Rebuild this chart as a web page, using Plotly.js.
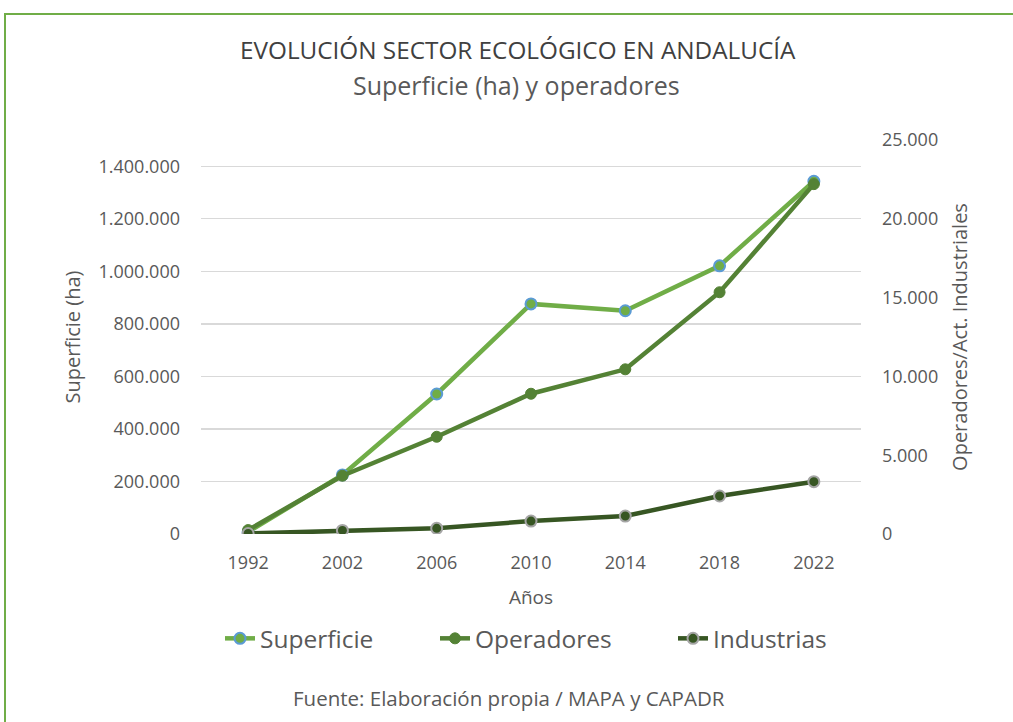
<!DOCTYPE html>
<html>
<head>
<meta charset="utf-8">
<script src="https://cdn.plot.ly/plotly-3.0.1.min.js"></script>
<style>
html,body{margin:0;padding:0;background:#fff;}
#chart{width:1013px;height:722px;}
</style>
</head>
<body>
<div id="chart"></div>
<script>
var years = ['1992','2002','2006','2010','2014','2018','2022'];
var superficie = [8000, 225000, 533000, 876000, 850000, 1021000, 1343000];
var operadores = [250, 3700, 6170, 8900, 10450, 15340, 22200];
var industrias = [30, 230, 360, 820, 1140, 2410, 3320];

var FONT = 'Open Sans, Noto Sans, sans-serif';
var GREY = '#595959';

var traces = [
  {x: years, y: superficie, name: 'Superficie', type: 'scatter', mode: 'lines+markers',
   yaxis: 'y', legend: 'legend', line: {color: '#70AD47', width: 4.5},
   marker: {color: '#70AD47', size: 11, line: {color: '#5B9BD5', width: 2}}},
  {x: years, y: operadores, name: 'Operadores', type: 'scatter', mode: 'lines+markers',
   yaxis: 'y2', legend: 'legend2', line: {color: '#548235', width: 4.5},
   marker: {color: '#548235', size: 11, line: {color: '#548235', width: 1}}},
  {x: years, y: industrias, name: 'Industrias', type: 'scatter', mode: 'lines+markers',
   yaxis: 'y2', legend: 'legend3', line: {color: '#375623', width: 4.5},
   marker: {color: '#375623', size: 11, line: {color: '#A5A5A5', width: 2}}}
];

function leg(px) {
  return {orientation: 'h', x: (px - 201) / 660, xanchor: 'left', y: -0.265, yanchor: 'middle',
          font: {size: 24.5, color: GREY}, bgcolor: 'rgba(0,0,0,0)'};
}

var layout = {
  width: 1013, height: 722,
  margin: {l: 201, r: 152, t: 140, b: 188},
  paper_bgcolor: '#fff', plot_bgcolor: '#fff',
  font: {family: FONT, color: GREY, size: 18},
  showlegend: true,
  legend: leg(220),
  legend2: leg(435),
  legend3: leg(673),
  separators: ',.',
  xaxis: {type: 'category', range: [-0.5, 6.5], showgrid: false, zeroline: false,
          showline: false, ticks: '', tickfont: {size: 18, color: GREY},
          ticklabelstandoff: 16,
          title: {text: 'Años', font: {size: 19, color: GREY}, standoff: 17}},
  yaxis: {range: [0, 1500000], dtick: 200000, tick0: 0, showgrid: true,
          gridcolor: '#D9D9D9', gridwidth: 1.3, zeroline: false, showline: false,
          ticks: '', tickformat: ',d', tickfont: {size: 18, color: GREY},
          ticklabelstandoff: 20,
          title: {text: 'Superficie (ha)', font: {size: 20, color: GREY}, standoff: 12}},
  yaxis2: {range: [0, 25000], dtick: 5000, tick0: 0, overlaying: 'y', side: 'right',
           showgrid: false, zeroline: false, showline: false, ticks: '',
           tickformat: ',d', tickfont: {size: 18, color: GREY},
           ticklabelstandoff: 20,
           title: {text: 'Operadores/Act. Industriales', font: {size: 20, color: GREY}, standoff: 15}},
  annotations: [
    {text: 'EVOLUCIÓN SECTOR ECOLÓGICO EN ANDALUCÍA', xref: 'paper', yref: 'paper',
     x: 0.48, y: (534 - 49) / 394, xanchor: 'center', yanchor: 'middle', showarrow: false,
     font: {family: FONT, size: 24.3, color: '#404040'}},
    {text: 'Superficie (ha) y operadores', xref: 'paper', yref: 'paper',
     x: 0.478, y: (534 - 85) / 394, xanchor: 'center', yanchor: 'middle', showarrow: false,
     font: {family: FONT, size: 25, color: GREY}},
    {text: 'Fuente: Elaboración propia / MAPA y CAPADR', xref: 'paper', yref: 'paper',
     x: 0.467, y: (534 - 698) / 394, xanchor: 'center', yanchor: 'middle', showarrow: false,
     font: {family: FONT, size: 20.5, color: GREY}}
  ],
  shapes: [
    {type: 'rect', xref: 'paper', yref: 'paper',
     x0: (5 - 201) / 660, x1: 1.4, y0: -0.6, y1: (534 - 14) / 394,
     line: {color: '#70AD47', width: 2}, fillcolor: 'rgba(0,0,0,0)', layer: 'below'}
  ]
};

Plotly.newPlot('chart', traces, layout, {displayModeBar: false, staticPlot: true});
</script>
</body>
</html>
